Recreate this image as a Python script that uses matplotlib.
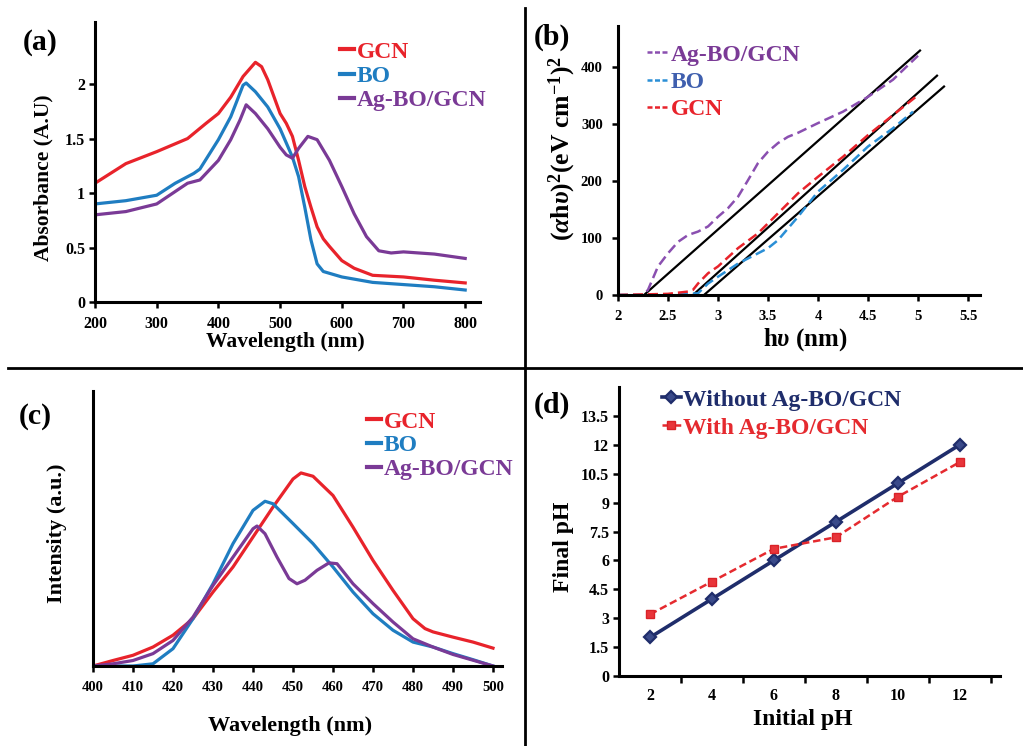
import matplotlib
matplotlib.use("Agg")
import matplotlib.pyplot as plt
from matplotlib.lines import Line2D

plt.rcParams['font.family'] = ['Liberation Serif', 'DejaVu Serif']
plt.rcParams['font.weight'] = 'bold'
plt.rcParams['axes.labelweight'] = 'bold'
plt.rcParams['mathtext.fontset'] = 'custom'
plt.rcParams['mathtext.rm'] = 'Liberation Serif:bold'
plt.rcParams['mathtext.it'] = 'Liberation Serif:italic:bold'
plt.rcParams['mathtext.bf'] = 'Liberation Serif:bold'

RED = '#e8232b'
BLUE = '#1f7dc1'
PURPLE = '#7a3a96'
NAVY = '#1f2d6b'

# ---------------- (a) UV-vis absorbance ----------------
a_gcn_x = [200, 250, 300, 350, 380, 400, 420, 440, 460, 470, 480, 500, 510, 520, 530, 540, 550, 560, 570, 580, 600, 620, 650, 700, 750, 800]
a_gcn_y = [1.09, 1.27, 1.38, 1.50, 1.64, 1.73, 1.88, 2.07, 2.20, 2.16, 2.04, 1.73, 1.64, 1.52, 1.30, 1.06, 0.87, 0.69, 0.58, 0.51, 0.38, 0.31, 0.245, 0.23, 0.20, 0.175]
a_bo_x = [200, 250, 300, 330, 360, 370, 400, 420, 440, 445, 460, 480, 500, 520, 530, 540, 550, 560, 570, 600, 650, 700, 750, 800]
a_bo_y = [0.90, 0.93, 0.98, 1.09, 1.18, 1.22, 1.49, 1.70, 1.99, 2.01, 1.93, 1.79, 1.59, 1.33, 1.15, 0.87, 0.57, 0.35, 0.28, 0.23, 0.18, 0.16, 0.14, 0.11]
a_ag_x = [200, 250, 300, 350, 370, 400, 420, 435, 445, 460, 480, 500, 510, 520, 530, 545, 560, 580, 600, 620, 640, 660, 680, 700, 750, 800]
a_ag_y = [0.80, 0.83, 0.90, 1.09, 1.12, 1.30, 1.49, 1.67, 1.81, 1.73, 1.59, 1.42, 1.35, 1.32, 1.41, 1.52, 1.49, 1.30, 1.06, 0.81, 0.60, 0.47, 0.45, 0.46, 0.44, 0.40]
a_xticks = [200, 300, 400, 500, 600, 700, 800]
a_yticks = [0, 0.5, 1, 1.5, 2]
a_ytick_labels = ['0', '0.5', '1', '1.5', '2']

# ---------------- (b) Tauc plot ----------------
b_ag_x = [2.0, 2.25, 2.3, 2.4, 2.5, 2.6, 2.7, 2.8, 2.9, 3.0, 3.1, 3.2, 3.3, 3.4, 3.5, 3.6, 3.7, 3.8, 4.0, 4.25, 4.5, 4.75, 5.0]
b_ag_y = [0, 0, 9, 50, 73, 93, 105, 111, 120, 137, 152, 172, 201, 231, 251, 266, 277, 284, 301, 321, 347, 377, 419]
b_bo_x = [2.0, 2.5, 2.8, 2.9, 3.0, 3.2, 3.4, 3.5, 3.6, 3.8, 4.0, 4.25, 4.5, 4.75, 4.95]
b_bo_y = [0, 0, 3, 20, 32, 55, 73, 82, 96, 137, 181, 219, 260, 292, 321]
b_gcn_x = [2.0, 2.5, 2.7, 2.75, 2.8, 2.9, 3.0, 3.2, 3.4, 3.6, 3.8, 4.0, 4.25, 4.5, 4.75, 5.0]
b_gcn_y = [0, 2, 6, 9, 20, 38, 50, 82, 108, 143, 178, 207, 242, 280, 315, 350]
fit_x0 = [2.26, 2.75, 2.86]
fit_x1 = [5.02, 5.19, 5.26]
fit_y1 = [428, 384, 365]
b_xticks = [2, 2.5, 3, 3.5, 4, 4.5, 5, 5.5]
b_yticks = [0, 100, 200, 300, 400]

# ---------------- (c) PL spectra ----------------
c_gcn_x = [400, 405, 410, 415, 420, 425, 430, 435, 440, 445, 450, 452, 455, 460, 465, 470, 475, 480, 483, 485, 490, 495, 500]
c_gcn_y = [0, 2, 3.9, 6.9, 11.2, 17.2, 26.9, 36, 46.9, 57.8, 68, 70.2, 69, 62, 50.5, 38.4, 27.5, 17.2, 13.6, 12.4, 10.5, 8.7, 6.5]
c_bo_x = [400, 410, 415, 420, 425, 430, 435, 440, 443, 445, 450, 455, 460, 465, 470, 475, 480, 485, 490, 495, 500]
c_bo_y = [0, 0, 0.8, 6.3, 17.2, 29.9, 44.5, 56.6, 59.9, 59, 51.8, 44.5, 36, 26.9, 19, 13, 8.7, 6.9, 4.5, 2.3, 0]
c_ag_x = [400, 405, 410, 415, 420, 425, 430, 435, 440, 441, 443, 446, 449, 451, 453, 456, 459, 461, 465, 470, 475, 480, 485, 490, 495, 500]
c_ag_y = [0, 0.8, 2, 4.5, 9.3, 17.8, 29.3, 39.6, 49.9, 50.9, 48.1, 39.6, 31.8, 29.9, 31.2, 34.8, 37.5, 37.2, 29.9, 22.7, 16, 9.9, 6.9, 4.2, 2.1, 0]
c_xticks = [400, 410, 420, 430, 440, 450, 460, 470, 480, 490, 500]

# ---------------- (d) pH ----------------
d_initial = [2, 4, 6, 8, 10, 12]
d_without = [2, 4, 6, 8, 10, 12]
d_with = [3.2, 4.9, 6.6, 7.2, 9.3, 11.1]
d_yticks = [0, 1.5, 3, 4.5, 6, 7.5, 9, 10.5, 12, 13.5]
d_ytick_labels = ['0', '1.5', '3', '4.5', '6', '7.5', '9', '10.5', '12', '13.5']

W, H = 1023, 746
fig = plt.figure(figsize=(W / 100, H / 100), dpi=100)


def rect(l, r, t, b):
    return [l / W, 1 - b / H, (r - l) / W, (b - t) / H]


def style(ax, tick_fs, xpad=6, ypad=3):
    for s in ['top', 'right']:
        ax.spines[s].set_visible(False)
    for s in ['left', 'bottom']:
        ax.spines[s].set_linewidth(2.2)
        ax.spines[s].set_color('black')
    ax.tick_params(direction='out', length=4, width=1.8, labelsize=tick_fs)
    ax.tick_params(axis='x', pad=xpad)
    ax.tick_params(axis='y', pad=ypad)
    for lab in ax.get_xticklabels() + ax.get_yticklabels():
        lab.set_fontweight('bold')


def leg(ax, handles, labels, x, y, colors, fs=17, hl=0.6, sp=0.05, tp=0.1):
    lg = ax.legend(handles, labels, loc='upper left', bbox_to_anchor=(x / W, 1 - y / H),
                   bbox_transform=fig.transFigure, frameon=False, borderpad=0, borderaxespad=0,
                   handlelength=hl, handletextpad=tp, labelspacing=sp,
                   prop={'family': 'Liberation Serif', 'weight': 'bold', 'size': fs})
    for t, c in zip(lg.get_texts(), colors):
        t.set_color(c)
    return lg

# ---- (a)
ax = fig.add_axes(rect(95, 480, 22, 302))
ax.plot(a_gcn_x, a_gcn_y, color=RED, lw=2.3)
ax.plot(a_bo_x, a_bo_y, color=BLUE, lw=2.3)
ax.plot(a_ag_x, a_ag_y, color=PURPLE, lw=2.3)
ax.set_xlim(200, 824)
ax.set_ylim(0, 2.57)
ax.set_xticks(a_xticks)
ax.set_yticks(a_yticks)
ax.set_yticklabels(a_ytick_labels)
style(ax, 11.5)
ax.set_xlabel('Wavelength (nm)', fontsize=15.5, fontweight='bold')
ax.set_ylabel('Absorbance (A.U)', fontsize=15.5, fontweight='bold')
ax.xaxis.set_label_coords((285 - 95) / 385, (302 - 342) / 280)
ax.xaxis.label.set_va('center')
ax.yaxis.set_label_coords((43 - 95) / 385, (302 - 178) / 280)
ax.yaxis.label.set_va('center')
leg(ax, [Line2D([], [], color=RED, lw=3), Line2D([], [], color=BLUE, lw=3), Line2D([], [], color=PURPLE, lw=3)],
    ['GCN', 'BO', 'Ag-BO/GCN'], 340, 41, [RED, BLUE, PURPLE], sp=0.12)
fig.text(40 / W, 1 - 42 / H, '(a)', fontsize=21.5, fontweight='bold', ha='center', va='center')

# ---- (b)
ax = fig.add_axes(rect(618, 980, 26, 295))
for x0, x1, y1 in zip(fit_x0, fit_x1, fit_y1):
    ax.plot([x0, x1], [0, y1], color='black', lw=1.6)
ax.plot(b_ag_x, b_ag_y, color='#8a4fb0', lw=1.8, ls=(0, (4, 2)))
ax.plot(b_bo_x, b_bo_y, color='#2a8fd6', lw=1.8, ls=(0, (4, 2)))
ax.plot(b_gcn_x, b_gcn_y, color='#e8232b', lw=1.8, ls=(0, (4, 2)))
ax.set_xlim(2, 5.62)
ax.set_ylim(0, 471)
ax.set_xticks(b_xticks)
ax.set_xticklabels([('%g' % v) for v in b_xticks])
ax.set_yticks(b_yticks)
style(ax, 10.5, xpad=7, ypad=7)
ax.set_xlabel(r'h$\upsilon$ (nm)', fontsize=18, fontweight='bold')
ax.set_ylabel(r'($\alpha$h$\upsilon$)$^{2}$(eV cm$^{\mathrm{-1}}$)$^{2}$', fontsize=18.5, fontweight='bold')
ax.xaxis.set_label_coords((805 - 618) / 362, (295 - 340) / 269)
ax.xaxis.label.set_va('center')
ax.yaxis.set_label_coords((562 - 618) / 362, (295 - 148) / 269)
ax.yaxis.label.set_va('center')
leg(ax, [Line2D([], [], color='#8a4fb0', lw=1.8, ls=(0, (2, 1))), Line2D([], [], color='#2a8fd6', lw=1.8, ls=(0, (2, 1))),
         Line2D([], [], color='#e8232b', lw=1.8, ls=(0, (2, 1)))],
    ['Ag-BO/GCN', 'BO', 'GCN'], 647, 44, [PURPLE, '#3f5fae', RED], fs=17, hl=0.9, sp=0.25)
fig.text(552 / W, 1 - 37 / H, '(b)', fontsize=21.5, fontweight='bold', ha='center', va='center')

# ---- (c)
ax = fig.add_axes(rect(93, 502, 391, 666))
ax.plot(c_gcn_x, c_gcn_y, color=RED, lw=2.3)
ax.plot(c_bo_x, c_bo_y, color=BLUE, lw=2.3)
ax.plot(c_ag_x, c_ag_y, color=PURPLE, lw=2.3)
ax.set_xlim(400, 502.25)
ax.set_ylim(0, 100)
ax.set_xticks(c_xticks)
ax.set_yticks([])
style(ax, 10.5, xpad=7)
ax.set_xlabel('Wavelength (nm)', fontsize=16, fontweight='bold')
ax.set_ylabel('Intensity (a.u.)', fontsize=16, fontweight='bold')
ax.xaxis.set_label_coords((290 - 93) / 409, (666 - 726) / 275)
ax.xaxis.label.set_va('center')
ax.yaxis.set_label_coords((57 - 93) / 409, (666 - 533) / 275)
ax.yaxis.label.set_va('center')
leg(ax, [Line2D([], [], color=RED, lw=3), Line2D([], [], color=BLUE, lw=3), Line2D([], [], color=PURPLE, lw=3)],
    ['GCN', 'BO', 'Ag-BO/GCN'], 367, 411, [RED, BLUE, PURPLE], sp=0.1)
fig.text(35 / W, 1 - 416 / H, '(c)', fontsize=21.5, fontweight='bold', ha='center', va='center')

# ---- (d)
ax = fig.add_axes(rect(619, 1000, 387, 676))
ld1, = ax.plot(d_initial, d_without, color=NAVY, lw=2.6, marker='D', ms=6, mfc='#3a4a8a', mec=NAVY, mew=1.6)
ld2, = ax.plot(d_initial, d_with, color='#e52a2f', lw=1.8, ls=(0, (3, 1.5)), marker='s', ms=6, mfc='#e8353a', mec='#d92228')
ax.set_xlim(1, 13.3)
ax.set_ylim(0, 15)
ax.set_xticks(d_initial)
ax.set_xticks([3, 5, 7, 9, 11, 13], minor=True)
ax.set_yticks(d_yticks)
ax.set_yticklabels(d_ytick_labels)
style(ax, 11.5)
ax.tick_params(axis='x', which='major', length=0, pad=9)
ax.tick_params(axis='x', which='minor', direction='out', length=5, width=1.8)
ax.set_xlabel('Initial pH', fontsize=17, fontweight='bold')
ax.set_ylabel('Final pH', fontsize=17, fontweight='bold')
ax.xaxis.set_label_coords((803 - 619) / 381, (676 - 720) / 289)
ax.xaxis.label.set_va('center')
ax.yaxis.set_label_coords((563 - 619) / 381, (676 - 547) / 289)
ax.yaxis.label.set_va('center')
leg(ax, [ld1, ld2], ['Without Ag-BO/GCN', 'With Ag-BO/GCN'], 662, 389, [NAVY, '#e52a2f'], fs=17, hl=0.8, sp=0.28)
fig.text(552 / W, 1 - 405 / H, '(d)', fontsize=21.5, fontweight='bold', ha='center', va='center')

# separators
fig.add_artist(Line2D([525 / W, 525 / W], [0, 1 - 8 / H], color='black', lw=2))
fig.add_artist(Line2D([8 / W, 1], [1 - 368 / H, 1 - 368 / H], color='black', lw=2))

fig.savefig('out.png', dpi=100)
